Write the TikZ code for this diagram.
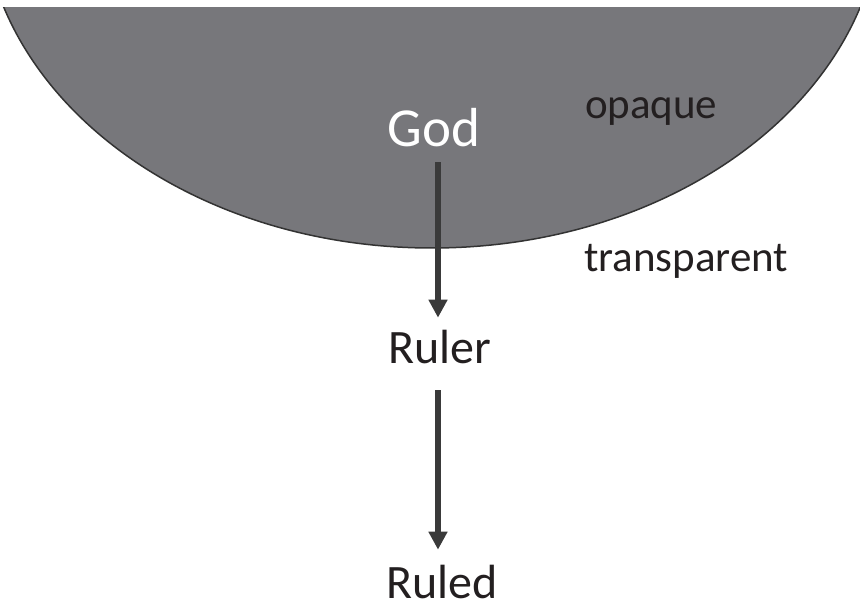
\documentclass[tikz,border=0pt]{standalone}
\usepackage{fontspec}
\setmainfont{Carlito}
\usetikzlibrary{arrows.meta}
\definecolor{bowl}{HTML}{77777B}
\definecolor{rim}{HTML}{333333}
\definecolor{ink}{HTML}{231F20}
\definecolor{arrowc}{HTML}{3A3A3A}
\tikzset{
  lbl/.style={inner sep=0pt, outer sep=0pt, anchor=base, text=ink},
  big/.style={lbl, font=\fontsize{48}{50}\selectfont},
  side/.style={lbl, font=\fontsize{43}{45}\selectfont, anchor=base west},
  arr/.style={draw=arrowc, line width=6pt, -{Triangle[width=18pt,length=18pt]}}
}
\begin{document}
\begin{tikzpicture}[x=1pt,y=-1pt]
\useasboundingbox (0,0) rectangle (860,601);
\begin{scope}
  \clip (0,8) rectangle (860,601);
  \draw[fill=bowl, draw=rim, line width=1.5pt] (432,-100) ellipse [x radius=450pt, y radius=348pt];
\end{scope}
\node[lbl, text=white, font=\fontsize{55}{57}\selectfont] (god) at (434,147) {God};
\node[big] (ruler) at (440,364) {Ruler};
\node[big] (ruled) at (442,598) {Ruled};
\node[side] (opaque) at (585,119) {opaque};
\node[side] (transp) at (584,272) {transparent};
\coordinate (ax) at (438,0);
\draw[arr, shorten <=15pt, shorten >=13pt] (god.south -| ax) -- (ruler.north -| ax);
\draw[arr, shorten <=26pt, shorten >=15pt] (ruler.south -| ax) -- (ruled.north -| ax);
\end{tikzpicture}
\end{document}
